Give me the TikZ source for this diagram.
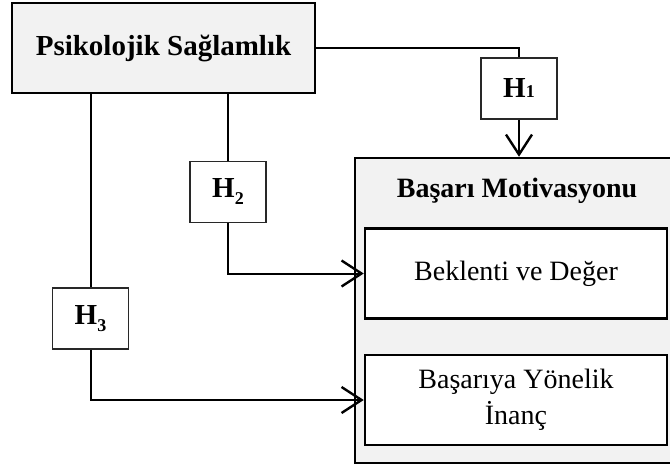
\documentclass[tikz,border=0pt]{standalone}
\usepackage{fontspec}
\setmainfont{Liberation Serif}
\usetikzlibrary{arrows.meta,positioning}
\definecolor{BoxGray}{RGB}{242,242,242}
\definecolor{HypLine}{RGB}{40,40,40}

\tikzset{
  bigbox/.style={draw=black, line width=2.5pt, fill=BoxGray, inner sep=0pt, align=center},
  subbox/.style={draw=black, line width=2.5pt, fill=white, inner sep=0pt, align=center,
    minimum width=302pt, minimum height=90pt, font=\fontsize{28}{36}\selectfont},
  hypbox/.style={draw=HypLine, line width=1.2pt, fill=white, inner sep=0pt,
    minimum width=76pt, minimum height=61pt, font=\fontsize{29}{34}\selectfont\bfseries},
  link/.style={line width=2pt},
  arr/.style={link, -{Straight Barb[length=20pt, width=26pt, line width=2.4pt]}}
}

\newcommand{\hsub}[1]{H\raisebox{-7pt}{\fontsize{18}{18}\selectfont #1}}

\begin{document}
\begin{tikzpicture}[x=1pt, y=-1pt]

\useasboundingbox (0,0) rectangle (670,466);
\clip (0,0) rectangle (670,466);

% Independent variable
\node[bigbox, minimum width=303pt, minimum height=90pt,
  font=\fontsize{29}{34}\selectfont\bfseries] (psy) at (163.5,48) {Psikolojik Sağlamlık};

% Dependent variable with its two dimensions
\node[bigbox, minimum width=330pt, minimum height=305pt] (motiv) at (520,310.5) {};
\node[font=\fontsize{28}{34}\selectfont\bfseries, anchor=base] (motivtitle) at (517,197) {Başarı Motivasyonu};
\node[subbox] (beklenti) at (516,273.5) {Beklenti ve Değer};
\node[subbox] (inanc) at (516,400) {Başarıya Yönelik\\İnanç};

% Hypotheses
\node[hypbox] (h1) at (519,88.5) {H{\fontsize{18}{18}\selectfont 1}};
\node[hypbox] (h2) at (228,192) {\hsub{2}};
\node[hypbox] (h3) at (90.5,318.5) {\hsub{3}};

% Paths
\draw[link] (psy.east) -| (h1.north);
\draw[arr] (h1.south) -- (h1.south |- motiv.north);
\draw[link] (h2.north |- psy.south) -- (h2.north);
\draw[arr] (h2.south) |- (beklenti.west);
\draw[link] (h3.north |- psy.south) -- (h3.north);
\draw[arr] (h3.south) |- (inanc.west);

\end{tikzpicture}
\end{document}
